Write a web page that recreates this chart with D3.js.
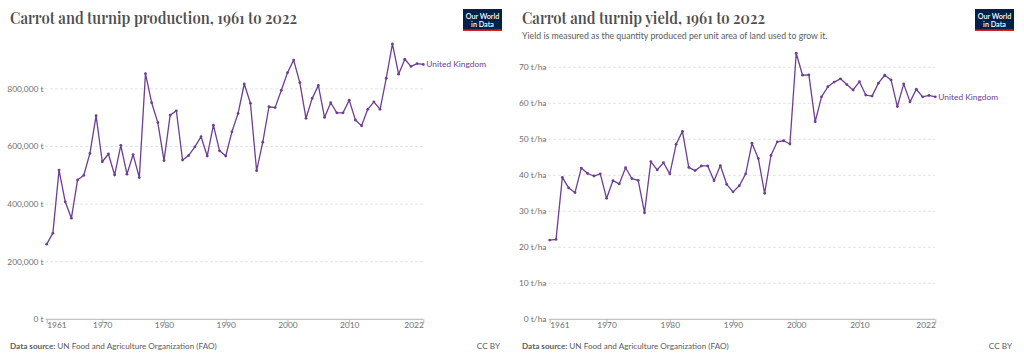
<!DOCTYPE html>
<html>
<head>
<meta charset="utf-8">
<script src="https://cdn.jsdelivr.net/npm/d3@7"></script>
<style>
  html, body { margin: 0; padding: 0; background: #fff; }
  svg { display: block; }
  text { font-family: Lato, "Noto Sans", sans-serif; }
</style>
</head>
<body>
<svg id="chart" width="1024" height="361"></svg>
<script>
// ---------- DATA ----------
const years = d3.range(1961, 2023);
const production = [
  261000, 299000, 518000, 408000, 351000, 484000, 500000, 576000, 707000, 547000,
  574000, 501000, 604000, 504000, 572000, 492000, 853000, 752000, 683000, 551000,
  709000, 724000, 553000, 569000, 599000, 634000, 567000, 674000, 585000, 567000,
  651000, 715000, 817000, 750000, 516000, 615000, 738000, 735000, 795000, 856000,
  900000, 822000, 698000, 767000, 812000, 701000, 752000, 717000, 717000, 761000,
  692000, 672000, 729000, 755000, 729000, 837000, 956000, 851000, 903000, 878000,
  888000, 885000
];
const yieldVals = [
  22.0, 22.2, 39.4, 36.5, 35.2, 42.0, 40.5, 39.8, 40.4, 33.6,
  38.5, 37.6, 42.1, 39.1, 38.6, 29.6, 43.8, 41.5, 43.5, 40.4,
  48.6, 52.2, 42.2, 41.3, 42.6, 42.6, 38.5, 42.7, 37.5, 35.4,
  37.1, 40.4, 48.9, 44.7, 35.0, 45.5, 49.3, 49.6, 48.7, 73.9,
  67.8, 67.9, 54.9, 61.8, 64.6, 65.9, 66.8, 65.2, 63.7, 66.0,
  62.3, 62.0, 65.6, 67.8, 66.5, 59.1, 65.4, 60.4, 63.9, 61.8,
  62.2, 61.8
];
const xTickYears = [1961, 1970, 1980, 1990, 2000, 2010, 2022];
const prodTicks = [0, 200000, 400000, 600000, 800000];
const yieldTicks = [0, 10, 20, 30, 40, 50, 60, 70];
const entityName = "United Kingdom";
const prodTitle = "Carrot and turnip production, 1961 to 2022";
const yieldTitle = "Carrot and turnip yield, 1961 to 2022";
const yieldSubtitle = "Yield is measured as the quantity produced per unit area of land used to grow it.";
const sourceText = "UN Food and Agriculture Organization (FAO)";

// ---------- DRAW ----------
const svg = d3.select("#chart");
const lineColor = "#6d3e91";

// scale a text element's font size so it spans a target width
function fitWidth(sel, target, base) {
  const w = sel.node().getComputedTextLength();
  if (w > 0) sel.attr("font-size", base * target / w);
}

function panel(opts) {
  const g = svg.append("g");
  const x = d3.scaleLinear().domain([1961, 2022]).range([opts.x0, opts.x1]);
  const y = d3.scaleLinear().domain(opts.yDomain).range([319.3, opts.yTop]);

  // title
  g.append("text").attr("x", opts.left).attr("y", 24)
    .style("font-family", "'Playfair Display', 'Liberation Serif', Georgia, serif")
    .attr("font-size", 17).attr("font-weight", 600).attr("fill", "#4e4e4e")
    .attr("textLength", opts.titleW).attr("lengthAdjust", "spacingAndGlyphs")
    .text(opts.title);
  if (opts.subtitle) {
    const s = g.append("text").attr("x", opts.left).attr("y", 38.5)
      .attr("font-size", 9).attr("fill", "#5b5b5b").text(opts.subtitle);
    fitWidth(s, opts.subW, 9);
  }

  // logo
  const lg = g.append("g").attr("transform", `translate(${opts.logoX},9)`);
  lg.append("rect").attr("width", 39).attr("height", 22).attr("fill", "#002147");
  lg.append("rect").attr("y", 20.4).attr("width", 39).attr("height", 1.6).attr("fill", "#ce261e");
  lg.append("text").attr("x", 19.5).attr("y", 10).attr("text-anchor", "middle")
    .attr("font-size", 7.2).attr("font-weight", 600).attr("fill", "#fff").text("Our World");
  lg.append("text").attr("x", 19.5).attr("y", 17.5).attr("text-anchor", "middle")
    .attr("font-size", 7.2).attr("font-weight", 600).attr("fill", "#fff").text("in Data");

  // gridlines + y labels
  opts.yTicks.forEach(tk => {
    if (tk !== 0) {
      g.append("line").attr("x1", opts.gridX0).attr("x2", opts.x1)
        .attr("y1", y(tk)).attr("y2", y(tk))
        .attr("stroke", "#dcdcdc").attr("stroke-width", 0.8).attr("stroke-dasharray", "3,2");
    }
    g.append("text").attr("x", opts.labelX).attr("y", y(tk)).attr("dy", "0.35em")
      .attr("text-anchor", "end").attr("font-size", 8.4).attr("fill", "#6e6e6e")
      .text(opts.fmt(tk));
  });

  // x axis
  const xAxis = d3.axisBottom(x).tickValues(xTickYears).tickFormat(d3.format("d"))
    .tickSize(4).tickSizeOuter(0);
  const ax = g.append("g").attr("transform", "translate(0,319.3)").call(xAxis);
  ax.select(".domain").attr("stroke", "#b5b5b5").attr("d", `M${opts.x0 - 1},0H${opts.x1}`);
  ax.selectAll(".tick line").attr("stroke", "#b5b5b5");
  ax.selectAll(".tick text").attr("font-family", "Lato, sans-serif").attr("font-size", 8.4)
    .attr("fill", "#6e6e6e").attr("dy", "0.2em")
    .attr("text-anchor", d => d === 1961 ? "start" : d === 2022 ? "end" : "middle");

  // line
  const data = years.map((yr, i) => ({ yr, v: opts.values[i] }));
  g.append("path").datum(data)
    .attr("fill", "none").attr("stroke", lineColor).attr("stroke-width", 1.3)
    .attr("stroke-linejoin", "round")
    .attr("d", d3.line().x(d => x(d.yr)).y(d => y(d.v)));
  g.selectAll("circle.pt").data(data).enter().append("circle")
    .attr("cx", d => x(d.yr)).attr("cy", d => y(d.v)).attr("r", 1.4).attr("fill", lineColor);

  // entity label
  const last = data[data.length - 1];
  g.append("text").attr("x", x(last.yr) + 3).attr("y", y(last.v)).attr("dy", "0.35em")
    .attr("font-size", 8.4).attr("fill", lineColor).text(entityName);

  // footer
  const f = g.append("text").attr("x", opts.left).attr("y", 349).attr("font-size", 8.6).attr("fill", "#5b5b5b");
  f.append("tspan").attr("font-weight", 700).text("Data source: ");
  f.append("tspan").text(sourceText);
  fitWidth(f, 206.7, 8.6);
  g.append("text").attr("x", opts.ccX).attr("y", 349).attr("text-anchor", "end")
    .attr("font-size", 8.2).attr("fill", "#5b5b5b").text("CC BY");
}

panel({
  left: 10, x0: 46.7, x1: 423.3, gridX0: 45, labelX: 43.5, yTop: 31.3,
  yDomain: [0, 1000000], yTicks: prodTicks,
  fmt: t => d3.format(",")(t) + " t",
  values: production, title: prodTitle, titleW: 287, logoX: 463, ccX: 500
});
panel({
  left: 522, x0: 549.7, x1: 935.3, gridX0: 548, labelX: 546.5, yTop: 67.3,
  yDomain: [0, 70], yTicks: yieldTicks,
  fmt: t => t + " t/ha",
  values: yieldVals, title: yieldTitle, titleW: 243, subtitle: yieldSubtitle, subW: 306,
  logoX: 975, ccX: 1012
});
</script>
</body>
</html>
